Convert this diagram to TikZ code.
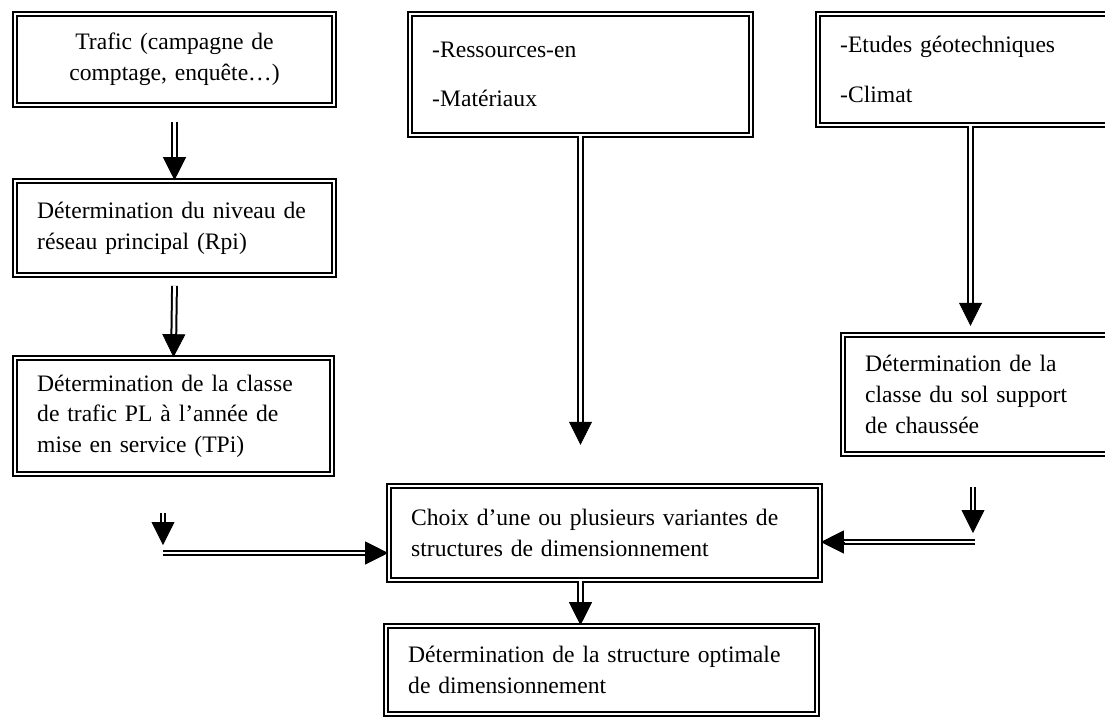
\documentclass[tikz,border=0pt]{standalone}
\usepackage{fontspec}
\setmainfont{Liberation Serif}
\usetikzlibrary{arrows.meta, positioning, calc}
\tikzset{
  box/.style={
    rectangle, draw=black, line width=1pt,
    double=white, double distance=1.2pt,
    inner xsep=11pt, inner ysep=3pt,
    font=\fontsize{11.8}{15.3}\selectfont, align=left
  },
  arrowshaft/.style={draw=black, line width=1pt, double=white, double distance=1.4pt, shorten >=9pt},
  arrowhead/.style={-{Triangle[length=11.5pt, width=11.5pt]}, line width=0.4pt, black},
}
\begin{document}
\begin{tikzpicture}[x=0.5pt, y=-0.5pt]
  \useasboundingbox (0,0) rectangle (1105,719);

  % Nodes
  \node[box, align=center, text width=137.3pt, minimum height=45.3pt] (trafic) at (174.5,59.5)
    {Trafic (campagne de\\comptage, enquête…)};
  \node[box, text width=137.3pt, minimum height=46.8pt] (niveau) at (174.5,228)
    {Détermination du niveau de\\réseau principal (Rpi)};
  \node[box, text width=136.3pt, minimum height=57.8pt] (classe) at (173.5,416)
    {Détermination de la classe\\de trafic PL à l’année de\\mise en service (TPi)};

  \node[box, text width=148.3pt, minimum height=60.3pt] (ressources) at (580.5,74.5)
    {-Ressources-en\\[9.5pt]-Matériaux};
  \node[box, text width=123.3pt, minimum height=55.3pt] (etudes) at (963.5,69.5)
    {-Etudes géotechniques\\[9.5pt]-Climat};
  \node[box, text width=110.8pt, minimum height=59.3pt] (sol) at (976,394.5)
    {Détermination de la\\classe du sol support\\de chaussée};

  \node[box, text width=193.3pt, minimum height=46.8pt] (choix) at (604.5,533)
    {Choix d’une ou plusieurs variantes de\\structures de dimensionnement};
  \node[box, text width=193.3pt, minimum height=43.8pt] (structure) at (601.5,670)
    {Détermination de la structure optimale\\de dimensionnement};

  % Free ends
  \coordinate[below=8pt of trafic] (t1);
  \coordinate[below=5pt of niveau] (n1);
  \coordinate[below=154.5pt of ressources] (r1);
  \coordinate (e0) at ([xshift=3.5pt]etudes.south);
  \coordinate[below=100pt of e0] (e1);
  \coordinate (l1) at (163,513);
  \coordinate (l2) at (163,545);
  \coordinate (l3) at (163,553);
  \coordinate (l4) at (l3 -| choix.west);
  \coordinate (s1) at (973,487);
  \coordinate (s2) at (973,533);
  \coordinate (s3) at (975,542);
  \coordinate (s4) at (s3 -| choix.east);
  \coordinate (c1) at (r1 |- choix.south);
  \coordinate (c2) at (r1 |- structure.north);

  % Arrows
  \foreach \a/\b in {t1/niveau.north, n1/classe.north, ressources.south/r1, e0/e1,
                     l1/l2, l3/l4, s1/s2, s3/s4, c1/c2}{
    \draw[arrowshaft] (\a) -- (\b);
    \draw[arrowhead] ($(\b)!11.5pt!(\a)$) -- (\b);
  }

\end{tikzpicture}
\end{document}
